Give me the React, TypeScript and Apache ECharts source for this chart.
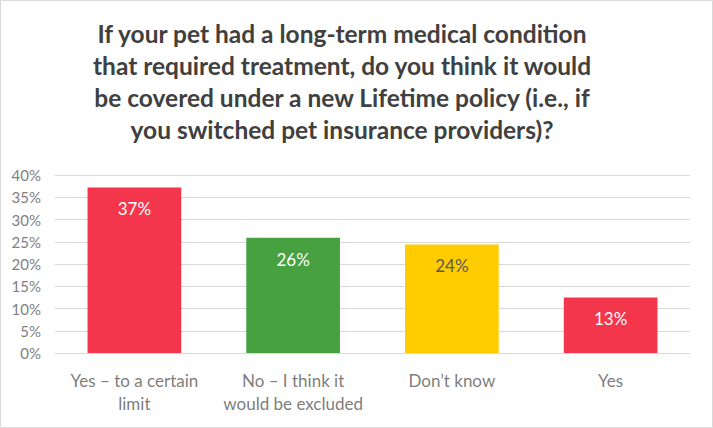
import React, { useEffect, useRef } from "react";
import * as echarts from "echarts";

const titleLines = [
  "If your pet had a long-term medical condition",
  "that required treatment, do you think it would",
  "be covered under a new Lifetime policy (i.e., if",
  "you switched pet insurance providers)?",
];
const categories = ["Yes – to a certain\nlimit", "No – I think it\nwould be excluded", "Don’t know", "Yes"];
const values = [0.372, 0.259, 0.244, 0.125];
const barColors = ["#F4364C", "#47A141", "#FFCC00", "#F4364C"];
const labelColors = ["#FFFFFF", "#FFFFFF", "#595959", "#FFFFFF"];

const FONT = "Lato";

const line1 = categories.map((c) => c.split("\n")[0]);
const line2 = categories.map((c) => c.split("\n")[1] || "");

function labelSeries(lines: string[], dy: number) {
  return {
    type: "scatter",
    symbolSize: 0,
    silent: true,
    clip: false,
    z: 5,
    data: lines.map((t, i) => ({ value: [i, 0], name: t })),
    label: {
      show: true,
      position: "inside",
      offset: [0, dy],
      align: "center",
      verticalAlign: "middle",
      color: "#595959",
      fontFamily: FONT,
      fontSize: 17,
      formatter: (p: any) => p.name,
    },
  };
}

export default function App() {
  const ref = useRef<HTMLDivElement>(null);
  useEffect(() => {
    const chart = echarts.init(ref.current!, null, { renderer: "svg" });
    chart.setOption({
      animation: false,
      backgroundColor: "#FFFFFF",
      title: {
        text: titleLines.join("\n"),
        left: 337,
        textAlign: "center",
        top: 12,
        textStyle: {
          fontFamily: FONT,
          fontWeight: "bold",
          fontSize: 24.5,
          lineHeight: 32,
          color: "#404040",
        },
      },
      graphic: [
        {
          type: "rect",
          shape: { x: 0.5, y: 0.5, width: 712, height: 427 },
          style: { fill: "none", stroke: "#D9D9D9", lineWidth: 1 },
          silent: true,
        },
      ],
      grid: { left: 55, right: 23, top: 175, bottom: 75, containLabel: false },
      xAxis: {
        type: "category",
        data: categories,
        axisLine: { lineStyle: { color: "#D9D9D9" } },
        axisTick: { show: false },
        axisLabel: { show: false },
      },
      yAxis: {
        type: "value",
        min: 0,
        max: 0.4,
        interval: 0.05,
        axisLine: { show: false },
        axisTick: { show: false },
        splitLine: { lineStyle: { color: "#D9D9D9" } },
        axisLabel: {
          color: "#7F7F7F",
          fontFamily: FONT,
          fontSize: 15,
          margin: 14,
          formatter: (v: number) => Math.round(v * 100) + "%",
        },
      },
      series: [
        {
          type: "bar",
          barCategoryGap: "41%",
          data: values.map((v, i) => ({
            value: v,
            itemStyle: { color: barColors[i] },
            label: { color: labelColors[i] },
          })),
          label: {
            show: true,
            position: "insideTop",
            distance: 13,
            fontFamily: FONT,
            fontSize: 17,
            formatter: (p: any) => Math.round(p.value * 100) + "%",
          },
        },
        labelSeries(line1, 27),
        labelSeries(line2, 50),
      ],
    });
    return () => chart.dispose();
  }, []);
  return (
    <div
      ref={ref}
      style={{ position: "fixed", left: 0, top: 0, width: 713, height: 428 }}
    />
  );
}
